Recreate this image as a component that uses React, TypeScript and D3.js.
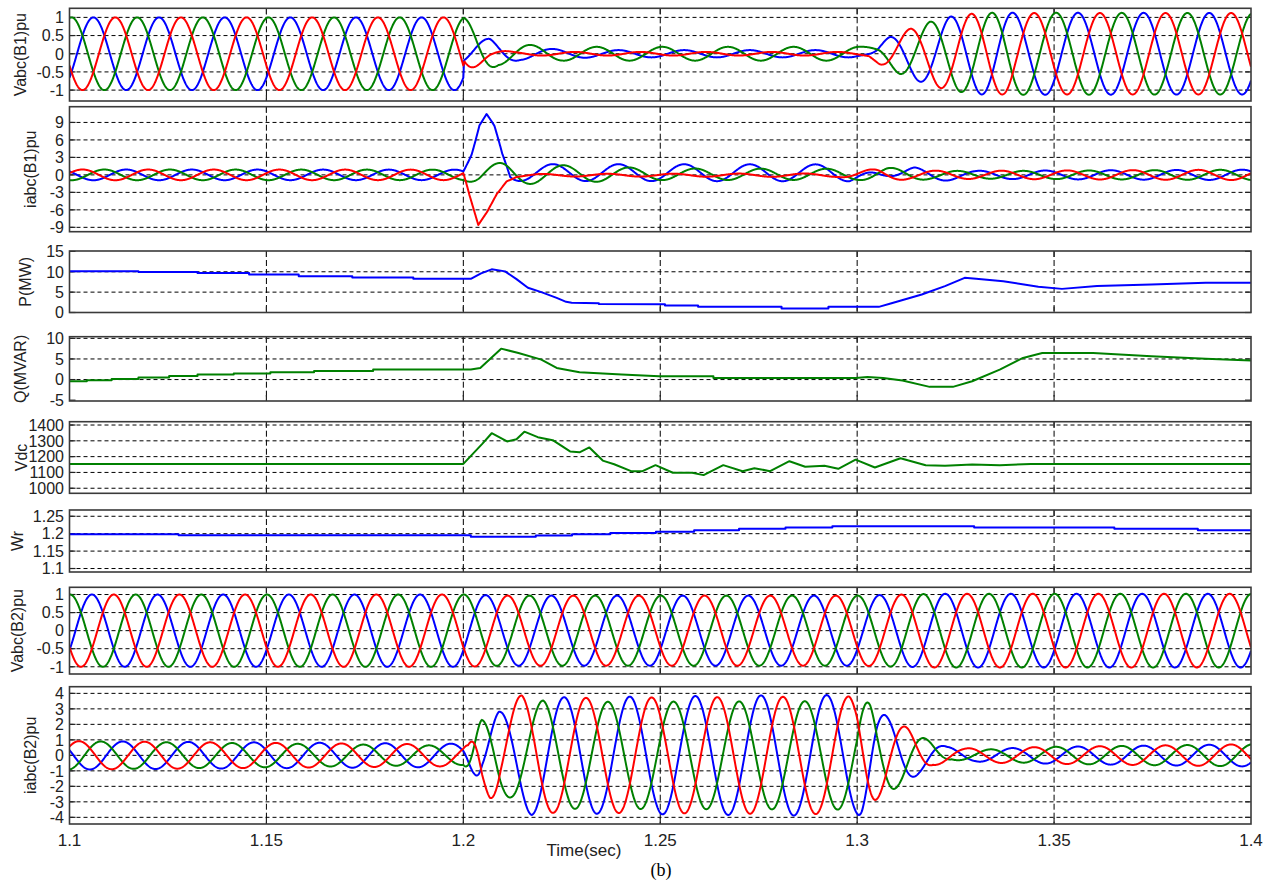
import React from 'react';
import * as d3 from 'd3';

// page / axes frame
const W = 1275;
const H = 882;
const X_LEFT = 69.5;
const X_RIGHT = 1251;
const FREQ = 60; // grid frequency of the three-phase traces (Hz)
const DT = 0.0001; // drawing resolution of the sinusoidal traces (s)

const timeTicks = [1.1, 1.15, 1.2, 1.25, 1.3, 1.35, 1.4];
const timeTickLabels = ['1.1', '1.15', '1.2', '1.25', '1.3', '1.35', '1.4'];

// ---------- three-phase traces: time of first red crest, envelope knots [t, amplitude] ----------
// Vabc(B1)
const vB1RedCrest = 1.11163;
const vB1Shift = [[1.1, 0], [1.3, 0], [1.305, 0.002], [1.32, 0.0013], [1.34, 0], [1.4, 0]];
const vB1RedAmp = [[1.1, 1], [1.2, 1], [1.2003, 0.5], [1.2015, 0.45], [1.207, 0.12], [1.213, 0.05], [1.3, 0.05], [1.303, 0.08], [1.306, 0.31], [1.3137, 0.7], [1.3214, 0.95], [1.329, 1.1], [1.335, 1.12], [1.4, 1.12]];
const vB1GreenAmp = [[1.1, 1], [1.2, 1], [1.2089, 0.31], [1.2173, 0.24], [1.225, 0.19], [1.3, 0.19], [1.305, 0.2], [1.3109, 0.56], [1.3185, 0.88], [1.3261, 1.05], [1.3345, 1.13], [1.4, 1.12]];
const vB1BlueAmp = [[1.1, 1], [1.2, 1], [1.2002, 0.3], [1.2068, 0.42], [1.2145, 0.17], [1.223, 0.13], [1.235, 0.1], [1.303, 0.1], [1.3084, 0.47], [1.316, 0.77], [1.3236, 1.02], [1.3316, 1.12], [1.34, 1.13], [1.4, 1.12]];

// iabc(B1)
const iB1RedCrest = 1.1033;
const iB1RedAmp = [[1.1, 0.92], [1.2, 0.9], [1.2015, 0.2], [1.295, 0.3], [1.3055, 1.1], [1.3135, 0.75], [1.33, 0.7], [1.4, 0.9]];
const iB1RedOff = [[1.1, 0], [1.2, 0], [1.2015, -3.5], [1.2038, -8.8], [1.206, -6.5], [1.2085, -3.2], [1.211, -0.9], [1.2135, -0.2], [1.22, -0.05], [1.3, -0.05], [1.305, 0], [1.4, 0]];
const iB1GreenAmp = [[1.1, 0.92], [1.2, 0.9], [1.2045, 1.7], [1.2114, 2.0], [1.22, 1.6], [1.235, 1.3], [1.25, 1.0], [1.3, 0.95], [1.3075, 1.25], [1.3185, 0.75], [1.33, 0.65], [1.4, 0.9]];
const iB1GreenOff = [[1.1, 0], [1.2, 0], [1.204, -0.2], [1.21, 0.2], [1.25, 0.1], [1.3, 0.1], [1.306, 0], [1.4, 0]];
const iB1BlueAmp = [[1.1, 0.92], [1.2, 0.9], [1.2041, 0], [1.2099, -0.8], [1.2125, -1.45], [1.298, -1.45], [1.3062, 0], [1.3145, 1.28], [1.33, 0.7], [1.4, 0.9]];
const iB1BlueOff = [[1.1, 0], [1.2, 0], [1.2021, 3.5], [1.2041, 8.5], [1.2059, 10.2], [1.2079, 8], [1.2099, 3.5], [1.2119, 0.4], [1.3, 0.35], [1.306, 0], [1.4, 0]];

// Vabc(B2)
const vB2RedCrest = 1.11125;
const vB2Amp = [[1.1, 1], [1.2, 1], [1.21, 0.97], [1.3, 0.97], [1.32, 1.02], [1.4, 1.02]];

// iabc(B2)
const iB2RedCrest = 1.10241;
const iB2Shift = [[1.1, 0], [1.2, 0], [1.2048, -0.0036], [1.2095, -0.0046], [1.3, -0.0046], [1.305, -0.006], [1.32, -0.0075], [1.4, -0.0075]];
const iB2RedAmp = [[1.1, 0.92], [1.2, 0.7], [1.2012, 0.66], [1.2068, 2.75], [1.2149, 3.9], [1.2233, 3.7], [1.298, 3.8], [1.3062, 2.67], [1.313, 1.74], [1.3193, 0.63], [1.327, 0.45], [1.35, 0.55], [1.4, 0.72]];
const iB2GreenAmp = [[1.1, 0.92], [1.2, 0.62], [1.2047, 2.3], [1.2123, 2.75], [1.2203, 3.55], [1.2283, 3.45], [1.296, 3.5], [1.3033, 3.4], [1.3104, 2.0], [1.3177, 1.03], [1.324, 0.3], [1.33, 0.35], [1.35, 0.55], [1.4, 0.72]];
const iB2BlueAmp = [[1.1, 0.92], [1.2, 0.75], [1.2028, 1.2], [1.209, 2.8], [1.2174, 3.85], [1.2255, 3.75], [1.29, 3.9], [1.3012, 3.85], [1.3078, 2.45], [1.3157, 1.2], [1.3228, 0.55], [1.33, 0.4], [1.35, 0.55], [1.4, 0.72]];

// ---------- single traces [t, value] ----------
const pMW = [[1.1, 10.1], [1.1175, 10.1], [1.1175, 9.92], [1.1325, 9.92], [1.1325, 9.67], [1.1456, 9.67], [1.1456, 9.34], [1.1582, 9.34], [1.1582, 8.93], [1.1718, 8.93], [1.1718, 8.6], [1.1873, 8.6], [1.1873, 8.28], [1.2019, 8.28], [1.2045, 9.6], [1.2072, 10.6], [1.2106, 10.1], [1.2135, 8.2], [1.2164, 6.07], [1.2198, 5.0], [1.2237, 3.6], [1.2261, 2.62], [1.2275, 2.4], [1.2344, 2.3], [1.2344, 2.1], [1.2512, 2.05], [1.2512, 1.72], [1.2596, 1.72], [1.2596, 1.39], [1.2808, 1.39], [1.2808, 0.98], [1.2927, 0.98], [1.2927, 1.39], [1.3055, 1.39], [1.3085, 2.21], [1.3164, 4.43], [1.3223, 6.48], [1.3273, 8.52], [1.3302, 8.28], [1.3371, 7.7], [1.346, 6.3], [1.352, 5.8], [1.3609, 6.48], [1.3747, 6.9], [1.3885, 7.3], [1.4, 7.3]];
const qMVAR = [[1.1, -0.4], [1.1044, -0.4], [1.1044, -0.16], [1.1107, -0.16], [1.1107, 0.16], [1.1175, 0.16], [1.1175, 0.48], [1.1253, 0.48], [1.1253, 0.89], [1.1325, 0.89], [1.1325, 1.21], [1.1417, 1.21], [1.1417, 1.45], [1.151, 1.45], [1.151, 1.77], [1.1621, 1.77], [1.1621, 2.1], [1.1771, 2.1], [1.1771, 2.42], [1.2019, 2.42], [1.2043, 2.82], [1.2096, 7.5], [1.214, 6.45], [1.2198, 4.84], [1.2237, 2.82], [1.2295, 1.77], [1.2402, 1.21], [1.2497, 0.8], [1.2635, 0.8], [1.2635, 0.4], [1.2996, 0.4], [1.3026, 0.65], [1.3066, 0.4], [1.3115, -0.24], [1.3184, -1.77], [1.3243, -1.77], [1.3292, -0.4], [1.3362, 2.42], [1.3421, 5.24], [1.347, 6.45], [1.3599, 6.45], [1.3747, 5.65], [1.3885, 5.08], [1.4, 4.6]];
const vdc = [[1.1, 1154], [1.2, 1154], [1.2048, 1281], [1.2072, 1348], [1.2111, 1296], [1.2135, 1310], [1.2155, 1358], [1.2189, 1323], [1.2227, 1304], [1.2271, 1233], [1.2295, 1227], [1.232, 1258], [1.2354, 1175], [1.2383, 1152], [1.2426, 1108], [1.2455, 1108], [1.2488, 1146], [1.2532, 1098], [1.2581, 1098], [1.261, 1083], [1.266, 1146], [1.2709, 1108], [1.2739, 1127], [1.2779, 1108], [1.2828, 1171], [1.2868, 1136], [1.2917, 1142], [1.2952, 1123], [1.2996, 1181], [1.3045, 1131], [1.311, 1190], [1.3174, 1146], [1.3223, 1142], [1.3292, 1150], [1.3362, 1146], [1.3441, 1154], [1.4, 1154]];
const wr = [[1.1, 1.1982], [1.1277, 1.1982], [1.1277, 1.1955], [1.2019, 1.1955], [1.2019, 1.1911], [1.2184, 1.1911], [1.2184, 1.1946], [1.2276, 1.1946], [1.2276, 1.1982], [1.2373, 1.1982], [1.2373, 1.2018], [1.2489, 1.2018], [1.2489, 1.2054], [1.2586, 1.2054], [1.2586, 1.2098], [1.27, 1.2098], [1.27, 1.2143], [1.2818, 1.2143], [1.2818, 1.2179], [1.2937, 1.2179], [1.2937, 1.2214], [1.3297, 1.2214], [1.3297, 1.2179], [1.3653, 1.2179], [1.3653, 1.2143], [1.3865, 1.2143], [1.3865, 1.2098], [1.4, 1.2098]];

// ---------- y ticks ----------
const puTicks = [1, 0.5, 0, -0.5, -1];
const iB1Ticks = [9, 6, 3, 0, -3, -6, -9];
const pTicks = [15, 10, 5, 0];
const qTicks = [10, 5, 0, -5];
const vdcTicks = [1400, 1300, 1200, 1100, 1000];
const wrTicks = [1.25, 1.2, 1.15, 1.1];
const iB2Ticks = [4, 3, 2, 1, 0, -1, -2, -3, -4];

const BLUE = '#0000ff';
const GREEN = '#008000';
const RED = '#ff0000';

const knots = (k: number[][]) =>
  d3.scaleLinear().domain(k.map(d => d[0])).range(k.map(d => d[1])).clamp(true);

function phaseTrace(crest: number, lag: number, amp: number[][], off?: number[][], shift?: number[][]) {
  const a = knots(amp);
  const o = off ? knots(off) : () => 0;
  const s = shift ? knots(shift) : () => 0;
  const n = Math.round((1.4 - 1.1) / DT);
  return d3.range(n + 1).map(i => {
    const t = 1.1 + i * DT;
    return [t, a(t) * Math.cos(2 * Math.PI * FREQ * (t - crest - lag / (3 * FREQ) - s(t))) + o(t)];
  });
}

type Trace = { data: number[][]; color: string };
type Panel = {
  id: string; label: string; labelX: number; top: number; bottom: number;
  domain: [number, number]; ticks: number[]; traces: Trace[];
};

const panels: Panel[] = [
  {
    id: 'vb1', label: 'Vabc(B1)pu', labelX: 26, top: 8.3, bottom: 101, domain: [-1.3, 1.25], ticks: puTicks,
    traces: [
      { data: phaseTrace(vB1RedCrest, 2, vB1BlueAmp, undefined, vB1Shift), color: BLUE },
      { data: phaseTrace(vB1RedCrest, 1, vB1GreenAmp, undefined, vB1Shift), color: GREEN },
      { data: phaseTrace(vB1RedCrest, 0, vB1RedAmp, undefined, vB1Shift), color: RED },
    ],
  },
  {
    id: 'ib1', label: 'iabc(B1)pu', labelX: 36, top: 106.7, bottom: 231.7, domain: [-9.75, 11.7], ticks: iB1Ticks,
    traces: [
      { data: phaseTrace(iB1RedCrest, 2, iB1BlueAmp, iB1BlueOff), color: BLUE },
      { data: phaseTrace(iB1RedCrest, 1, iB1GreenAmp, iB1GreenOff), color: GREEN },
      { data: phaseTrace(iB1RedCrest, 0, iB1RedAmp, iB1RedOff), color: RED },
    ],
  },
  { id: 'p', label: 'P(MW)', labelX: 31, top: 251, bottom: 312.5, domain: [0, 15.1], ticks: pTicks, traces: [{ data: pMW, color: BLUE }] },
  { id: 'q', label: 'Q(MVAR)', labelX: 26, top: 336.7, bottom: 401, domain: [-5.2, 10.4], ticks: qTicks, traces: [{ data: qMVAR, color: GREEN }] },
  { id: 'vdc', label: 'Vdc', labelX: 27, top: 421.7, bottom: 493.3, domain: [968, 1421], ticks: vdcTicks, traces: [{ data: vdc, color: GREEN }] },
  { id: 'wr', label: 'Wr', labelX: 23, top: 510, bottom: 572, domain: [1.09, 1.268], ticks: wrTicks, traces: [{ data: wr, color: BLUE }] },
  {
    id: 'vb2', label: 'Vabc(B2)pu', labelX: 23, top: 587.3, bottom: 674, domain: [-1.2, 1.2], ticks: puTicks,
    traces: [
      { data: phaseTrace(vB2RedCrest, 2, vB2Amp), color: BLUE },
      { data: phaseTrace(vB2RedCrest, 1, vB2Amp), color: GREEN },
      { data: phaseTrace(vB2RedCrest, 0, vB2Amp), color: RED },
    ],
  },
  {
    id: 'ib2', label: 'iabc(B2)pu', labelX: 36, top: 686.7, bottom: 824, domain: [-4.43, 4.43], ticks: iB2Ticks,
    traces: [
      { data: phaseTrace(iB2RedCrest, 2, iB2BlueAmp, undefined, iB2Shift), color: BLUE },
      { data: phaseTrace(iB2RedCrest, 1, iB2GreenAmp, undefined, iB2Shift), color: GREEN },
      { data: phaseTrace(iB2RedCrest, 0, iB2RedAmp, undefined, iB2Shift), color: RED },
    ],
  },
];

const FONT = "Arial, 'Liberation Sans', sans-serif";

export default function App() {
  const x = d3.scaleLinear().domain([1.1, 1.4]).range([X_LEFT, X_RIGHT]);
  const inner = timeTicks.slice(1, -1);
  const last = panels[panels.length - 1];

  return (
    <svg width={W} height={H} viewBox={`0 0 ${W} ${H}`}
      style={{ position: 'absolute', left: 0, top: 0, background: '#fff' }}>
      <rect width={W} height={H} fill="#fff" />
      <defs>
        {panels.map(p => (
          <clipPath id={`clip-${p.id}`} key={p.id}>
            <rect x={X_LEFT} y={p.top} width={X_RIGHT - X_LEFT} height={p.bottom - p.top} />
          </clipPath>
        ))}
      </defs>
      {panels.map(p => {
        const y = d3.scaleLinear().domain(p.domain).range([p.bottom, p.top]);
        const line = d3.line<number[]>().x(d => x(d[0])).y(d => y(d[1]));
        return (
          <g key={p.id}>
            {/* grid */}
            {p.ticks.filter(v => y(v) > p.top + 1 && y(v) < p.bottom - 1).map(v => (
              <line key={`h${v}`} x1={X_LEFT} x2={X_RIGHT} y1={y(v)} y2={y(v)}
                stroke="#000" strokeWidth={1} strokeDasharray="4,3" />
            ))}
            {inner.map(t => (
              <line key={`v${t}`} x1={x(t)} x2={x(t)} y1={p.top} y2={p.bottom}
                stroke="#000" strokeWidth={1} strokeDasharray="6,3" />
            ))}
            {/* tick marks */}
            {p.ticks.map(v => (
              <g key={`t${v}`} stroke="#222" strokeWidth={1.2}>
                <line x1={X_LEFT} x2={X_LEFT + 6} y1={y(v)} y2={y(v)} />
                <line x1={X_RIGHT - 6} x2={X_RIGHT} y1={y(v)} y2={y(v)} />
              </g>
            ))}
            {inner.map(t => (
              <g key={`tx${t}`} stroke="#222" strokeWidth={1.2}>
                <line x1={x(t)} x2={x(t)} y1={p.top} y2={p.top + 6} />
                <line x1={x(t)} x2={x(t)} y1={p.bottom - 6} y2={p.bottom} />
              </g>
            ))}
            {/* traces */}
            <g clipPath={`url(#clip-${p.id})`}>
              {p.traces.map((tr, i) => (
                <path key={i} d={line(tr.data) || ''} fill="none" stroke={tr.color}
                  strokeWidth={2} strokeLinejoin="round" />
              ))}
            </g>
            <rect x={X_LEFT} y={p.top} width={X_RIGHT - X_LEFT} height={p.bottom - p.top}
              fill="none" stroke="#3a3a3a" strokeWidth={1.6} />
            {/* y tick labels */}
            {p.ticks.map(v => (
              <text key={`l${v}`} x={64} y={y(v)} dy="0.36em" textAnchor="end"
                fontFamily={FONT} fontSize={16} fill="#222">{String(v)}</text>
            ))}
            <text transform={`translate(${p.labelX},${(p.top + p.bottom) / 2}) rotate(-90)`}
              textAnchor="middle" fontFamily={FONT} fontSize={16} fill="#222">{p.label}</text>
          </g>
        );
      })}
      {/* x tick labels */}
      {timeTicks.map((t, i) => (
        <text key={t} x={x(t)} y={last.bottom + 22} textAnchor="middle"
          fontFamily={FONT} fontSize={17} fill="#222">{timeTickLabels[i]}</text>
      ))}
      <text x={584} y={856} textAnchor="middle" fontFamily={FONT} fontSize={17} fill="#222">Time(sec)</text>
      <text x={661} y={876} textAnchor="middle" fontFamily="'Liberation Serif', 'Times New Roman', serif"
        fontSize={18} fill="#000">(b)</text>
    </svg>
  );
}
